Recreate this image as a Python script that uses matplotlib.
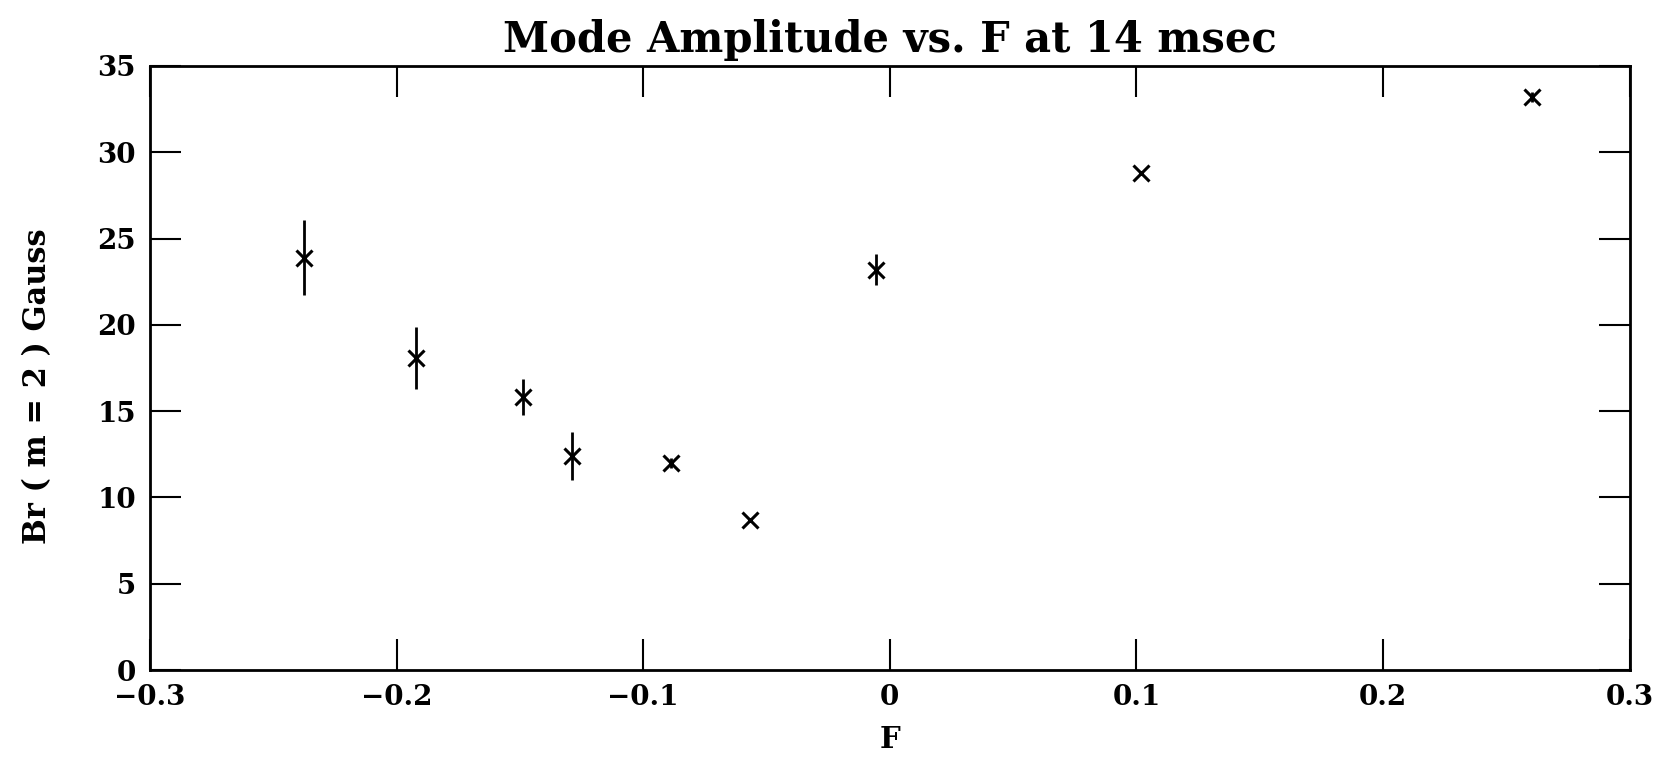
import numpy as np
import matplotlib
matplotlib.use('Agg')
import matplotlib.pyplot as plt

# values
f_vals = [-0.2376, -0.192, -0.1486, -0.129, -0.0888, -0.0566, -0.0058, 0.1017, 0.2604]
br_vals = [23.9, 18.1, 15.8, 12.4, 12.0, 8.7, 23.2, 28.8, 33.2]
br_err = [2.15, 1.8, 1.05, 1.4, 0.3, 0.0, 0.9, 0.0, 0.3]

xticks = [-0.3, -0.2, -0.1, 0, 0.1, 0.2, 0.3]
xtick_labels = ['\u22120.3', '\u22120.2', '\u22120.1', '0', '0.1', '0.2', '0.3']
yticks = [0, 5, 10, 15, 20, 25, 30, 35]


def main():
    plt.rcParams['font.family'] = ['DejaVu Serif']

    fig = plt.figure(figsize=(16.63, 7.62), dpi=100)
    ax = fig.add_axes([0.0902, 0.1207, 0.8898, 0.7927])

    ax.errorbar(f_vals, br_vals, yerr=br_err, fmt='x', color='black',
                ms=11, mew=2.2, elinewidth=2.0, capsize=0)

    ax.set_xlim(-0.3, 0.3)
    ax.set_ylim(0, 35)
    ax.set_xticks(xticks)
    ax.set_xticklabels(xtick_labels)
    ax.set_yticks(yticks)

    ax.tick_params(direction='in', top=True, right=True, length=22, width=1.5,
                   labelsize=20, pad=10)
    for lbl in ax.get_xticklabels() + ax.get_yticklabels():
        lbl.set_fontweight('bold')
    for sp in ax.spines.values():
        sp.set_linewidth(2.0)

    ax.set_title('Mode Amplitude vs. F at 14 msec', fontsize=30, fontweight='bold', pad=10)
    ax.set_xlabel('F', fontsize=21, fontweight='bold', labelpad=10)
    ax.set_ylabel('Br ( m = 2 ) Gauss', fontsize=22, fontweight='bold', labelpad=32)
    # label sits a little below centre in the original
    ax.yaxis.label.set_y(0.47)

    fig.savefig('out.png', dpi=100)


if __name__ == '__main__':
    main()
